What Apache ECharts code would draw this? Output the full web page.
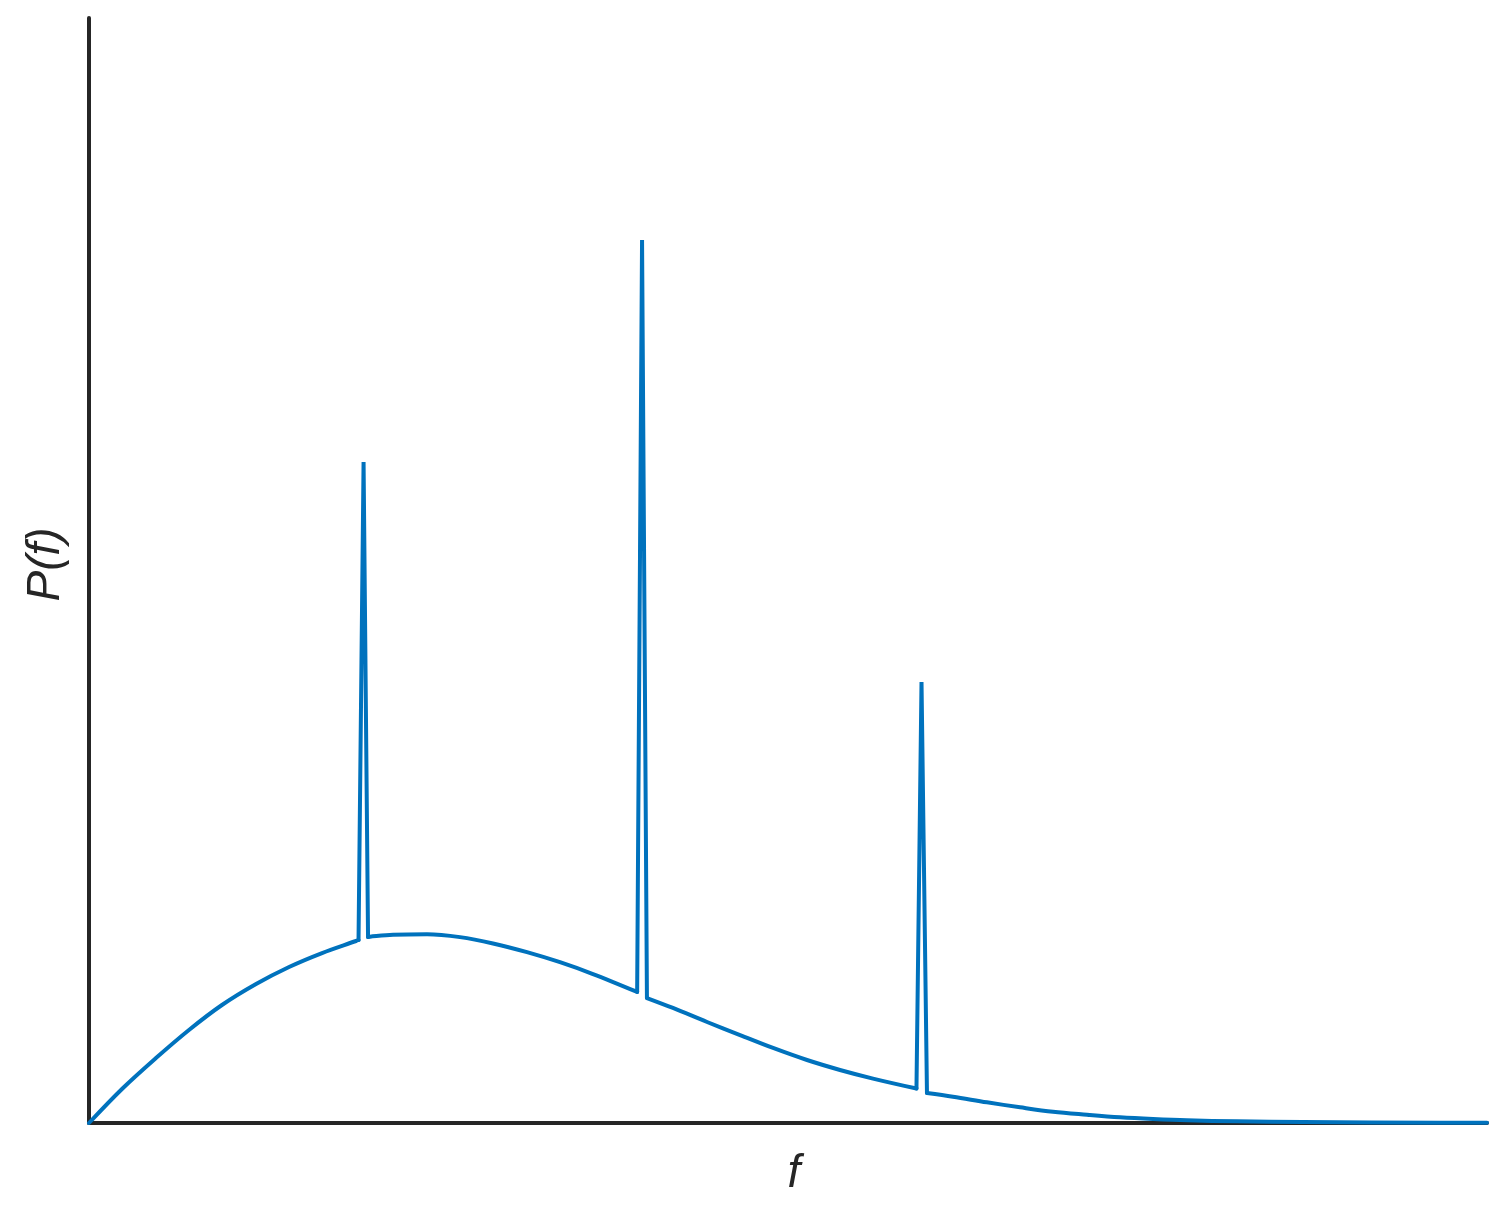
<!DOCTYPE html>
<html>
<head>
<meta charset="utf-8">
<script src="https://cdn.jsdelivr.net/npm/echarts@6/dist/echarts.min.js"></script>
<style>
html,body{margin:0;padding:0;background:#fff;}
#chart{width:1510px;height:1220px;}
</style>
</head>
<body>
<div id="chart"></div>
<script>
// Frequency (arbitrary units, 0..100) and power P(f) (arbitrary units, 0..100)
const freq = [0, 2.36, 4.79, 7.15, 9.51, 11.95, 14.31, 16.67, 19.10,
  19.28, 19.64, 19.96,
  20.10, 21.75, 24.18, 26.54, 28.90, 31.33, 33.69, 36.05,
  39.21, 39.56, 39.91,
  41.77, 44.21, 46.57, 48.93, 51.36, 53.72, 56.08,
  59.19, 59.55, 59.94,
  61.80, 64.23, 66.60, 68.96, 71.39, 73.75, 76.11, 78.54, 82.12, 86.84, 96.64, 100];
const power = [0, 3.08, 5.88, 8.42, 10.68, 12.58, 14.12, 15.38, 16.47,
  16.56, 59.82, 16.83,
  16.86, 17.03, 17.08, 16.82, 16.25, 15.46, 14.55, 13.48,
  11.86, 79.91, 11.31,
  10.41, 9.14, 7.96, 6.79, 5.70, 4.80, 4.02,
  3.12, 39.91, 2.71,
  2.38, 1.87, 1.42, 1.02, 0.75, 0.52, 0.36, 0.24, 0.15, 0.09, 0.03, 0.03];
// Index ranges: smooth background continuum and the three narrow spectral lines
const continuumRanges = [[0, 9], [11, 20], [22, 30], [32, 44]];
const lineRanges = [[9, 11], [20, 22], [30, 32]];
const xLabel = 'f';
const yLabel = 'P(f)';

const blue = '#0072BD';
const axisColor = '#262626';
const pts = (r) => freq.slice(r[0], r[1] + 1).map((f, i) => [f, power[r[0] + i]]);
const series = [];
continuumRanges.forEach(r => series.push({
  type: 'line', data: pts(r), showSymbol: false, symbol: 'none',
  smooth: 0.35, clip: false,
  lineStyle: {color: blue, width: 4, cap: 'round', join: 'round'}
}));
lineRanges.forEach(r => series.push({
  type: 'line', data: pts(r), showSymbol: false, symbol: 'none',
  smooth: false, clip: false,
  lineStyle: {color: blue, width: 4, cap: 'round', join: 'miter'}
}));

const chart = echarts.init(document.getElementById('chart'));
chart.setOption({
  animation: false,
  backgroundColor: '#ffffff',
  grid: {left: 89, right: 23, top: 18, bottom: 97, containLabel: false},
  xAxis: {
    type: 'value', min: 0, max: 100,
    name: xLabel, nameLocation: 'middle', nameGap: 28,
    nameTextStyle: {fontFamily: 'Liberation Sans', fontStyle: 'italic', fontSize: 46, color: axisColor, padding: [0, 0, 0, 12]},
    axisLine: {show: true, onZero: false, lineStyle: {color: axisColor, width: 4}},
    axisTick: {show: false}, axisLabel: {show: false}, splitLine: {show: false}
  },
  yAxis: {
    type: 'value', min: 0, max: 100,
    name: yLabel, nameLocation: 'middle', nameGap: 20,
    nameTextStyle: {fontFamily: 'Liberation Sans', fontStyle: 'italic', fontSize: 46, color: axisColor, padding: [0, 0, 0, 12]},
    axisLine: {show: true, onZero: false, lineStyle: {color: axisColor, width: 4}},
    axisTick: {show: false}, axisLabel: {show: false}, splitLine: {show: false}
  },
  series: series
});
</script>
</body>
</html>
